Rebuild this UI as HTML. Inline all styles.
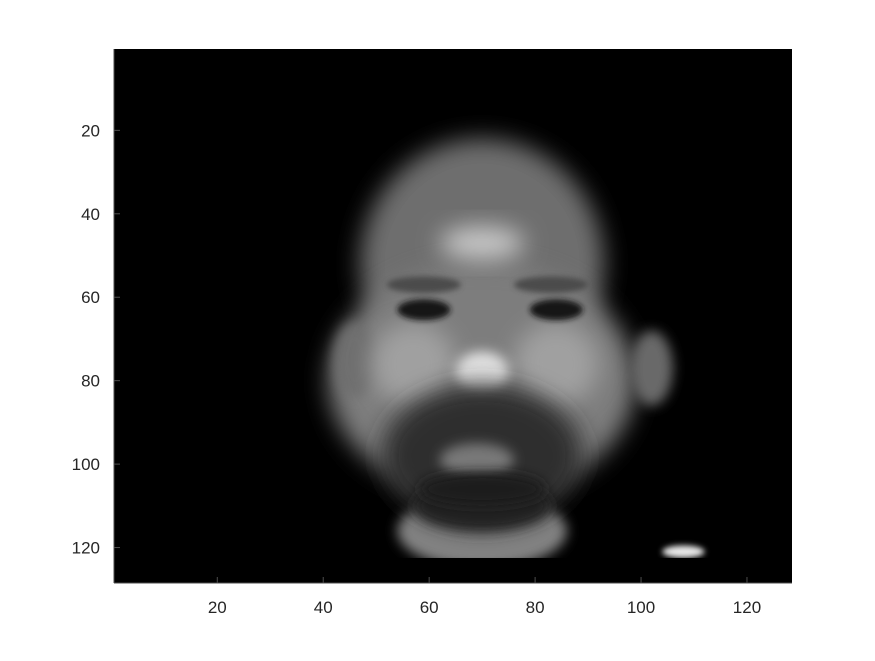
<!DOCTYPE html>
<html><head><meta charset="utf-8"><style>
body{margin:0;background:#fff;width:875px;height:656px;overflow:hidden;font-family:"Liberation Sans",Arial,sans-serif}
</style></head><body>
<svg id="chart" width="875" height="656" xmlns="http://www.w3.org/2000/svg">
<defs>
<clipPath id="clip"><rect x="114" y="49" width="678" height="534"/></clipPath>
<filter id="b6" x="-50%" y="-50%" width="200%" height="200%"><feGaussianBlur stdDeviation="6"/></filter>
<filter id="b12" x="-50%" y="-50%" width="200%" height="200%"><feGaussianBlur stdDeviation="12"/></filter>
<filter id="b3" x="-50%" y="-50%" width="200%" height="200%"><feGaussianBlur stdDeviation="3"/></filter>
</defs>
<rect x="114" y="49" width="678" height="534" fill="#000"/>
<g id="img" clip-path="url(#clip)"></g>
<g id="axes"></g>
</svg>
<script>
// image-space features: [cx, cy, rx, ry, gray(0-255), blur]
const featureNames=['head','neck','face','left-ear','right-ear','forehead-highlight','cheek-left','cheek-right','eyebrow-left','eyebrow-right','eye-left','eye-right','nose','beard','lips','mouth','chin-beard','neck-shadow','shoulder-highlight'];
const featureCx=[70,70,70,46,102,70,57,84,59,83,59,84,70,70,69,69,70,70,108];
const featureCy=[52,116,80,75,77,47,76,76,57,57,63,63,78,98,99,106,110,106,121];
const featureRx=[23,16,29,4,4,8,8,8,7,7,5,5,5,19,7,5,13,12,4];
const featureRy=[30,9,28,9,9,4,10,10,2,2,2.5,2.5,5,17,4,2,6,4,1.5];
const featureGray=[110,130,125,110,105,200,160,160,75,75,25,25,225,45,120,40,35,30,230];
const featureBlur=['b12','b6','b12','b6','b6','b12','b12','b12','b3','b3','b3','b3','b6','b12','b6','b3','b6','b6','b3'];
const xTicks=[20,40,60,80,100,120];
const yTicks=[20,40,60,80,100,120];
const X0=114,Y0=49,W=678,H=534,N=128;
const sx=u=>X0+(u-0.5)*W/N, sy=v=>Y0+(v-0.5)*H/N;
const NS='http://www.w3.org/2000/svg';
const img=document.getElementById('img');
featureNames.forEach((n,i)=>{
  const e=document.createElementNS(NS,'ellipse');
  e.setAttribute('cx',sx(featureCx[i]));e.setAttribute('cy',sy(featureCy[i]));
  e.setAttribute('rx',featureRx[i]*W/N);e.setAttribute('ry',featureRy[i]*H/N);
  const g=featureGray[i];e.setAttribute('fill',`rgb(${g},${g},${g})`);
  e.setAttribute('filter',`url(#${featureBlur[i]})`);
  
  
  img.appendChild(e);
});
const cut=document.createElementNS(NS,'rect');
cut.setAttribute('x',X0);cut.setAttribute('y',sy(122.5));cut.setAttribute('width',W);cut.setAttribute('height',Y0+H-sy(122.5));cut.setAttribute('fill','#000');


img.appendChild(cut);
const ax=document.getElementById('axes');
function line(x1,y1,x2,y2,name){const l=document.createElementNS(NS,'line');l.setAttribute('x1',x1);l.setAttribute('y1',y1);l.setAttribute('x2',x2);l.setAttribute('y2',y2);l.setAttribute('stroke','#4d4d4d');l.setAttribute('stroke-width','1');


ax.appendChild(l);}
function text(x,y,s,anchor,name){const t=document.createElementNS(NS,'text');t.setAttribute('x',x);t.setAttribute('y',y);t.setAttribute('text-anchor',anchor);t.setAttribute('font-size','17');t.setAttribute('fill','#262626');t.textContent=s;


ax.appendChild(t);}
line(X0,Y0+H,X0+W,Y0+H,'x-axis-line');
line(X0,Y0,X0,Y0+H,'y-axis-line');
xTicks.forEach(v=>{line(sx(v),Y0+H,sx(v),Y0+H-6,'x-tick');text(sx(v),Y0+H+30,String(v),'middle','x-tick-label');});
yTicks.forEach(v=>{line(X0,sy(v),X0+6,sy(v),'y-tick');text(X0-14,sy(v)+6,String(v),'end','y-tick-label');});
</script>
</body></html>
